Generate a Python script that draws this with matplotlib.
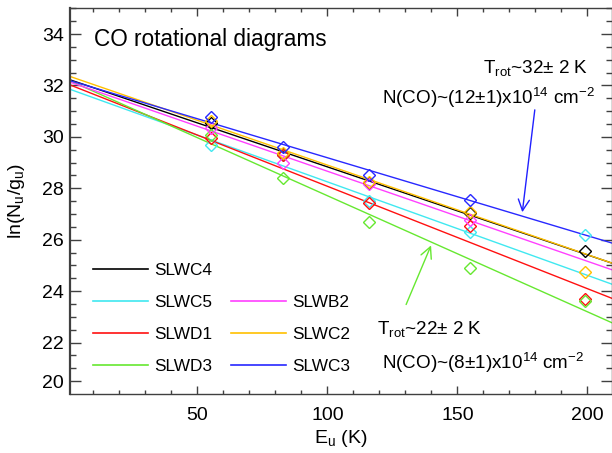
import numpy as np
import matplotlib
matplotlib.use("Agg")
import matplotlib.pyplot as plt
from matplotlib.lines import Line2D

plt.rcParams['font.family'] = ['Liberation Sans', 'DejaVu Sans']
plt.rcParams['mathtext.fontset'] = 'custom'
plt.rcParams['mathtext.rm'] = 'Liberation Sans'
plt.rcParams['mathtext.it'] = 'Liberation Sans:italic'
plt.rcParams['mathtext.bf'] = 'Liberation Sans:bold'

# ---- data ----
E_u = [55.3, 83.0, 116.2, 155.0, 199.1]
series = ['SLWC4', 'SLWC5', 'SLWD1', 'SLWD3', 'SLWB2', 'SLWC2', 'SLWC3']
colors = ['#000000', '#40E8F0', '#FF1010', '#66E830', '#FF40FF', '#FFC000', '#2828FF']
# fitted line parameters: ln(N/g) = intercept + slope * E_u
intercept = [32.254, 31.886, 32.060, 32.225, 32.165, 32.385, 32.220]
slope = [-0.03420, -0.03635, -0.03981, -0.04513, -0.03501, -0.03482, -0.03031]
# measured points (None = not visible)
pts = {
    'SLWC4': [30.55, 29.33, 28.19, 27.02, 25.55],
    'SLWC5': [29.68, 29.28, 27.50, 26.29, 26.20],
    'SLWD1': [29.96, 29.30, 27.43, 26.52, 23.68],
    'SLWD3': [30.07, 28.40, 26.69, 24.89, 23.62],
    'SLWB2': [30.35, 28.97, 28.15, 26.78, None],
    'SLWC2': [30.63, 29.36, 28.25, 27.07, 24.74],
    'SLWC3': [30.79, 29.61, 28.51, 27.56, None],
}
xlim = (1.0, 209.5)
ylim = (20.0, 35.0)
ytick_pos = [20.5, 22, 24, 26, 28, 30, 32, 34]
ytick_lab = ['20', '22', '24', '26', '28', '30', '32', '34']
xtick_pos = [50, 100, 150, 200]

fig = plt.figure(figsize=(6.12, 4.53), dpi=100)
ax = fig.add_axes([70/612, 1-394/453, (612-70)/612, (394-8.3)/453])

xx = np.array(xlim)
for s, c, a, b in zip(series, colors, intercept, slope):
    ax.plot(xx, a + b*xx, color=c, lw=1.0, zorder=2)
for s, c in zip(series, colors):
    y = np.array([np.nan if v is None else v for v in pts[s]])
    ax.plot(E_u, y, ls='none', marker='D', ms=5.8, mfc='none', mec=c, mew=1.0, zorder=3)

ax.set_xlim(*xlim)
ax.set_ylim(*ylim)
ax.set_xticks(xtick_pos)
ax.set_xticks(np.arange(10, 210, 10), minor=True)
ax.set_yticks(ytick_pos)
ax.set_yticklabels(ytick_lab)
ax.set_yticks([v for v in np.arange(21, 35.01, 0.5) if v not in ytick_pos], minor=True)

spc = '#404040'
for sp in ax.spines.values():
    sp.set_color(spc)
    sp.set_linewidth(1.0)
ax.spines['left'].set_linewidth(1.6)
ax.tick_params(axis='both', which='both', direction='in', top=True, right=True, color=spc, labelsize=14)
ax.tick_params(axis='y', which='major', length=8, width=1.0, pad=4.5)
ax.tick_params(axis='y', which='minor', length=4.3, width=1.0)
ax.tick_params(axis='x', which='major', length=5.5, width=1.0, pad=9)
ax.tick_params(axis='x', which='minor', length=3, width=1.0)

ax.set_xlabel(r'E$_{\mathrm{u}}$ (K)', fontsize=14, labelpad=3)
ax.set_ylabel(r'ln(N$_{\mathrm{u}}$/g$_{\mathrm{u}}$)', fontsize=14)
ax.yaxis.set_label_coords(-0.079, 0.5)

ax.text(10.4, 33.53, 'CO rotational diagrams', fontsize=16.3, ha='left', va='baseline')
fs = 13.6
ax.text(159.9, 32.50, r'T$_{\mathrm{rot}}$~32± 2 K', fontsize=fs, ha='left', va='baseline')
ax.text(121.0, 31.28, r'N(CO)~(12±1)x10$^{14}$ cm$^{-2}$', fontsize=fs, ha='left', va='baseline')
ax.text(119.2, 22.34, r'T$_{\mathrm{rot}}$~22± 2 K', fontsize=fs, ha='left', va='baseline')
ax.text(121.2, 20.99, r'N(CO)~(8±1)x10$^{14}$ cm$^{-2}$', fontsize=fs, ha='left', va='baseline')

ax.annotate('', xy=(175.0, 27.07), xytext=(179.8, 31.05),
            arrowprops=dict(arrowstyle='->', color='#2020FF', lw=1.0, shrinkA=0, shrinkB=0, mutation_scale=20))
ax.annotate('', xy=(139.9, 25.78), xytext=(130.3, 23.48),
            arrowprops=dict(arrowstyle='->', color='#66E830', lw=1.0, shrinkA=0, shrinkB=0, mutation_scale=20))

handles = []
labels = []
order = ['SLWC4', 'SLWC5', 'SLWD1', 'SLWD3', None, 'SLWB2', 'SLWC2', 'SLWC3']
for s in order:
    if s is None:
        handles.append(Line2D([], [], color='none'))
        labels.append('')
    else:
        handles.append(Line2D([], [], color=colors[series.index(s)], lw=1.2))
        labels.append(s)
ax.legend(handles, labels, ncol=2, loc='upper left', bbox_to_anchor=(0.043, 0.339),
          frameon=False, fontsize=12.4, borderpad=0, borderaxespad=0,
          handlelength=3.2, handletextpad=0.35, columnspacing=1.05, labelspacing=0.98)

fig.savefig('out.png', dpi=100)
